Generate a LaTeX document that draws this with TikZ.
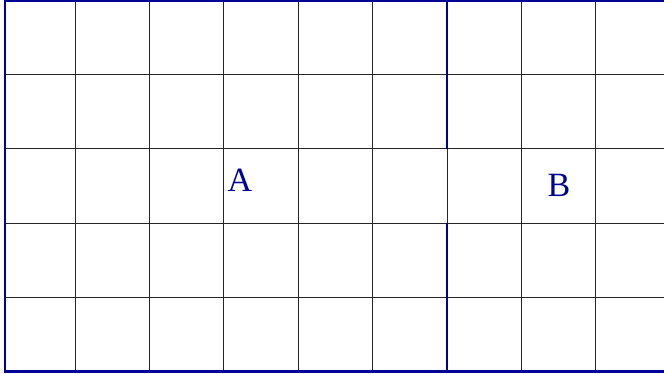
\documentclass[tikz,border=0pt]{standalone}
\usepackage{fontspec}
\setmainfont{Liberation Serif}
\definecolor{wallblue}{RGB}{0,0,150}

\begin{document}
\begin{tikzpicture}[
    x=1pt, y=-1pt,
    cellline/.style={black!85, line width=0.7pt},
    wall/.style={wallblue, line width=2.2pt},
    zonelabel/.style={text=wallblue, font=\fontsize{34}{34}\selectfont, inner sep=0pt},
]
    \useasboundingbox (0,0) rectangle (664,374);
    \begin{scope}
        \clip (0,0) rectangle (664,374);
        % grid
        \foreach \i in {0,...,7}
            \draw[cellline] (75+74.4*\i,1) -- (75+74.4*\i,371.5);
        \foreach \j in {0,...,3}
            \draw[cellline] (5,74.5+74.3*\j) -- (670,74.5+74.3*\j);
        % outer walls
        \draw[wall] (680,1) -- (5,1) -- (5,371.5) -- (680,371.5);
        % dividing wall with opening
        \draw[wall] (447,1) -- (447,148.8);
        \draw[wall] (447,223.1) -- (447,371.5);
    \end{scope}

    \node[zonelabel] (zoneA) at (240,180) {A};
    \node[zonelabel] (zoneB) at (559,185) {B};
\end{tikzpicture}
\end{document}
